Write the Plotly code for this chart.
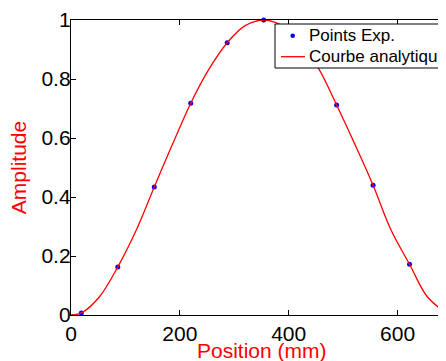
import plotly.graph_objects as go

pos_exp = [19, 86, 153, 220, 287, 354, 421, 488, 555, 622, 689]
amp_exp = [0.007, 0.163, 0.434, 0.718, 0.923, 1.0, 0.92, 0.712, 0.44, 0.172, 0.01]

# Analytic curve
pos_curve = [0, 19, 52, 86, 120, 153, 187, 220, 254, 287, 320, 354,
             388, 421, 455, 488, 521, 555, 588, 622, 655, 689, 705]
amp_curve = [0.0, 0.007, 0.061, 0.163, 0.288, 0.434, 0.581, 0.718, 0.835, 0.923, 0.981, 1.0,
             0.981, 0.923, 0.835, 0.712, 0.581, 0.44, 0.288, 0.172, 0.061, 0.01, 0.0]

x_ticks = [0, 200, 400, 600]
y_ticks = [0, 0.2, 0.4, 0.6, 0.8, 1]

series_names = ["Points Exp.", "Courbe analytique"]

FONT = "Liberation Sans, Arial, Helvetica, sans-serif"

# figure geometry (pixels inside the figure div, which sits 8px in from the page corner)
W, H = 446, 353
ML, MR, MT, MB = 63, 2, 12, 46
PW, PH = W - ML - MR, H - MT - MB


def px_x(fx):
    return (fx - ML) / PW


def px_y(fy):
    return (MT + PH - fy) / PH


fig = go.Figure()
fig.add_trace(go.Scatter(x=pos_exp, y=amp_exp, mode="markers", name=series_names[0],
                         marker=dict(color="#0000ff", size=5), cliponaxis=False, showlegend=False))
fig.add_trace(go.Scatter(x=pos_curve, y=amp_curve, mode="lines", name=series_names[1],
                         line=dict(color="#ff0000", width=1.3, shape="spline"), cliponaxis=True,
                         showlegend=False))

axis_common = dict(showgrid=False, zeroline=False, showline=True, linecolor="black", linewidth=1.3,
                   ticks="inside", ticklen=5, tickwidth=1, tickcolor="black", automargin=False,
                   tickfont=dict(family=FONT, size=21, color="black"))

fig.update_xaxes(range=[0, 700], tickvals=x_ticks, mirror="ticks", **axis_common)
fig.update_yaxes(range=[0, 1], tickvals=y_ticks, mirror=False, ticklabelstandoff=-5, **axis_common)

# axis titles
fig.add_annotation(text="Position (mm)", xref="x", x=350, yref="paper", y=-21.5 / PH, yanchor="top",
                   showarrow=False, font=dict(family=FONT, size=21, color="#ff0000"))
fig.add_annotation(text="Amplitude", xref="paper", x=px_x(10.7), xanchor="center",
                   yref="paper", y=0.5, yanchor="middle", textangle=-90,
                   showarrow=False, font=dict(family=FONT, size=21, color="#ff0000"))

# legend box (drawn like the original, running past the right edge)
fig.add_shape(type="rect", xref="paper", yref="paper", layer="above",
              x0=px_x(267), x1=px_x(470), y0=px_y(60), y1=px_y(16),
              fillcolor="white", line=dict(color="black", width=1))
fig.add_shape(type="circle", xref="paper", yref="paper", layer="above",
              x0=px_x(284.7 - 2.3), x1=px_x(284.7 + 2.3), y0=px_y(27.7 + 2.3), y1=px_y(27.7 - 2.3),
              fillcolor="#0000ff", line=dict(color="#0000ff", width=0))
fig.add_shape(type="line", xref="paper", yref="paper", layer="above",
              x0=px_x(273), x1=px_x(297), y0=px_y(48.7), y1=px_y(48.7),
              line=dict(color="#ff0000", width=1.3))
for name, fy in zip(series_names, [27.7, 48.7]):
    fig.add_annotation(text=name, xref="paper", yref="paper", x=px_x(299), y=px_y(fy),
                       xanchor="left", yanchor="middle", showarrow=False,
                       font=dict(family=FONT, size=17, color="black"))

fig.update_layout(
    template="none",
    width=W, height=H,
    margin=dict(l=ML, r=MR, t=MT, b=MB, autoexpand=False),
    plot_bgcolor="white", paper_bgcolor="white",
    showlegend=False,
)

fig.write_html("out.html")
